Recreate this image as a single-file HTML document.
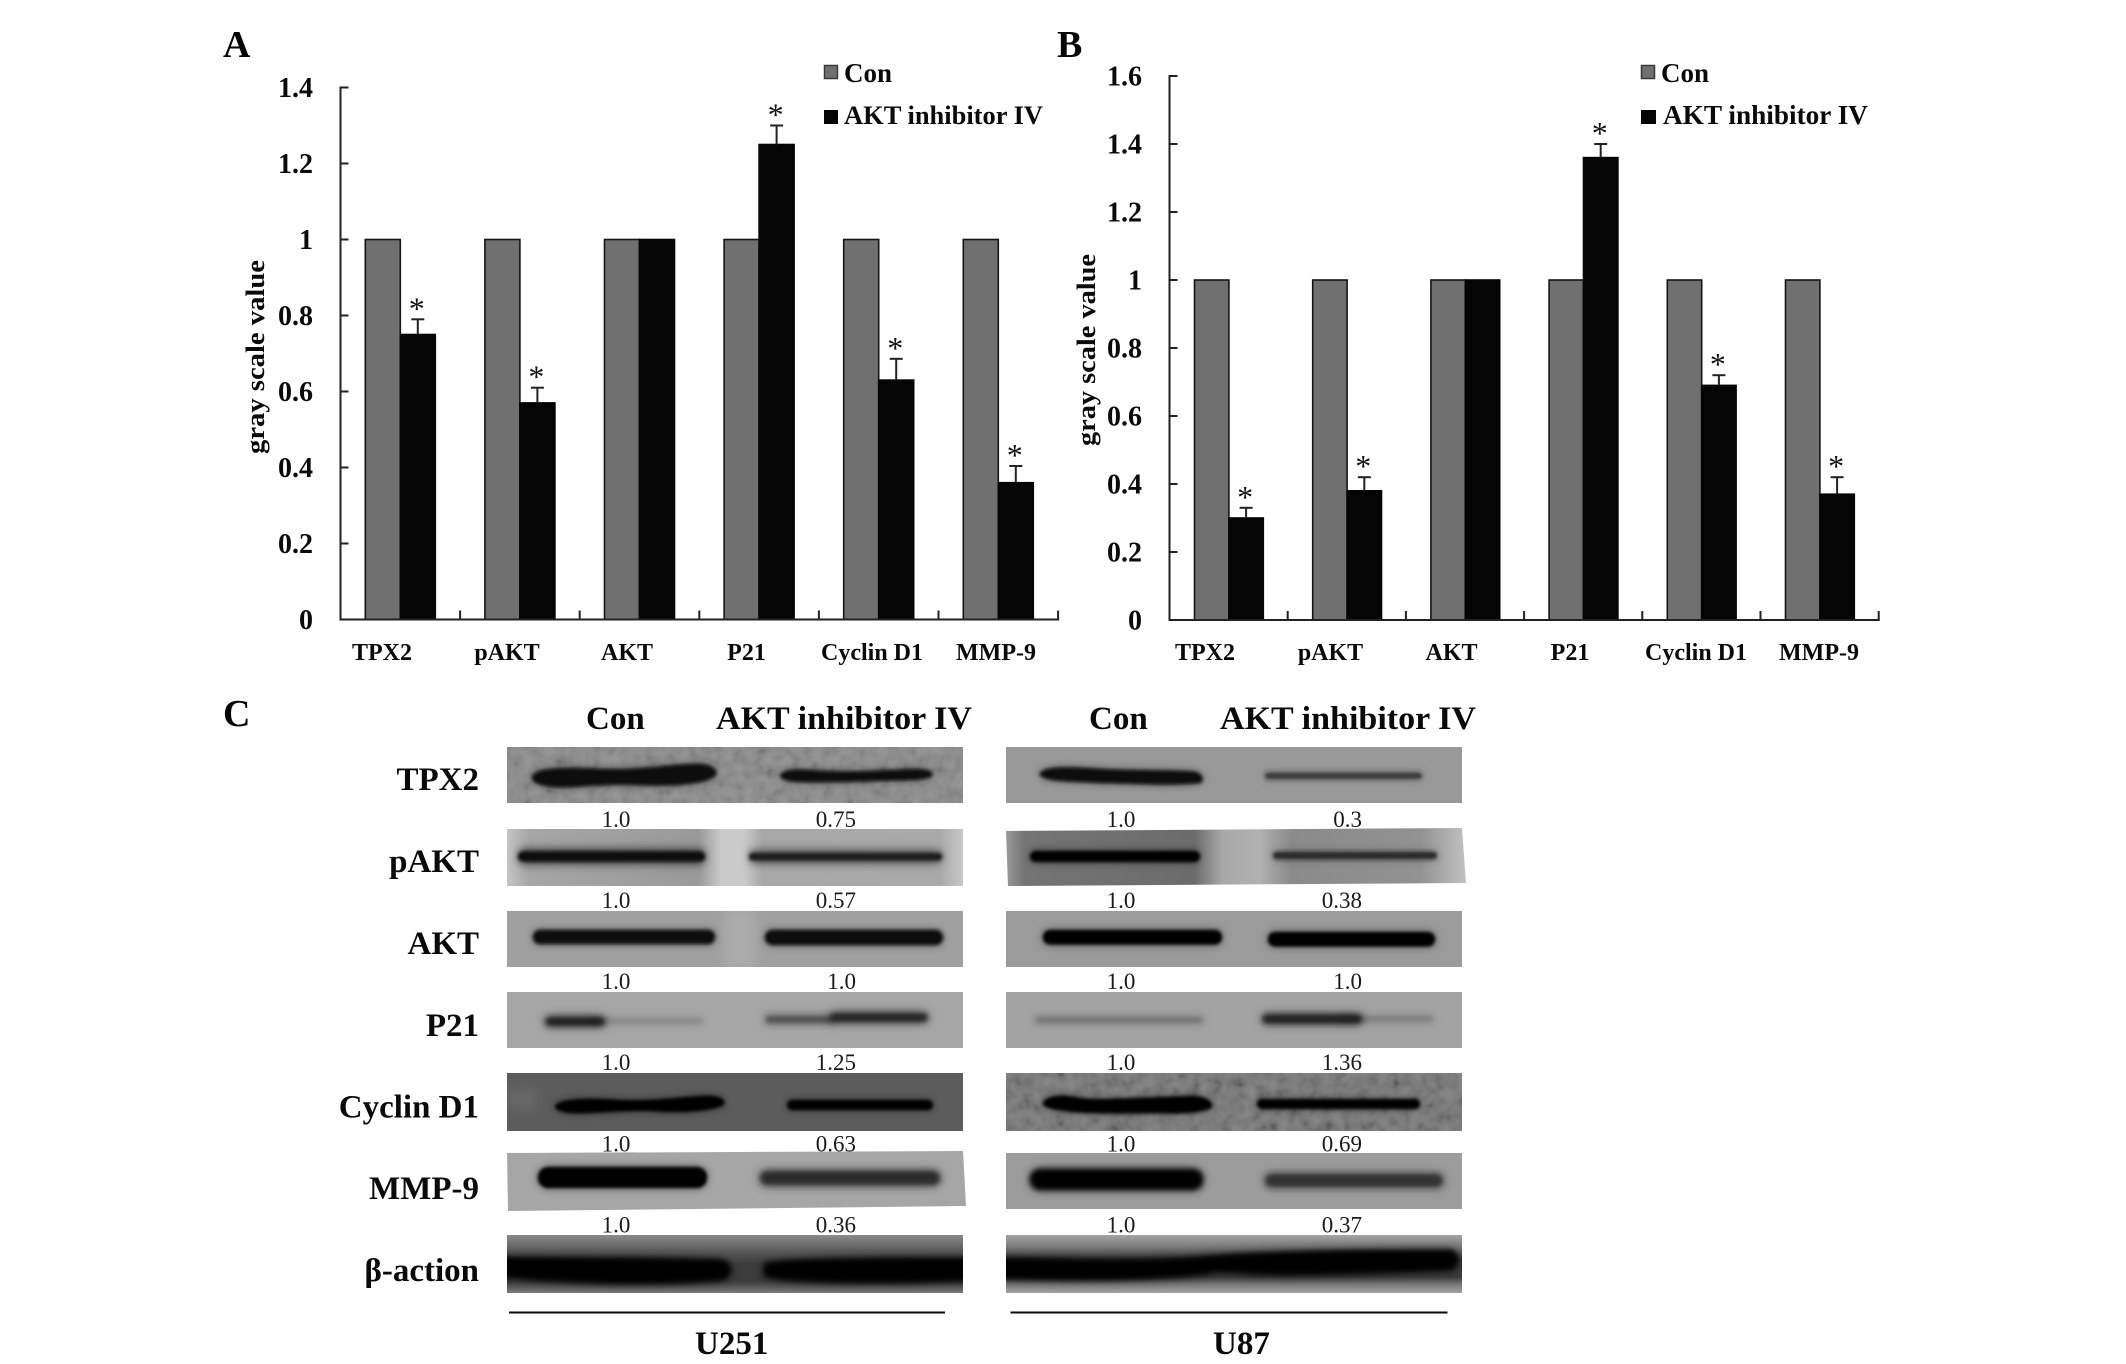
<!DOCTYPE html>
<html lang="en">
<head>
<meta charset="utf-8">
<title>AKT inhibitor IV gray scale values and western blots</title>
<style>
html,body{margin:0;padding:0;background:#fff;}
svg#figure{display:block;font-family:"Liberation Serif",serif;}
.b{font-weight:bold;fill:#0a0a0a;}
.n{fill:#1a1a1a;font-size:23px;}
.cat{font-weight:bold;font-size:24px;fill:#0a0a0a;}
.letter{font-weight:bold;font-size:38px;fill:#050505;}
.row{font-weight:bold;font-size:33px;fill:#0a0a0a;text-anchor:end;}
.head{font-weight:bold;font-size:33px;fill:#0a0a0a;}
</style>
</head>
<body>
<svg id="figure" xmlns="http://www.w3.org/2000/svg" width="2126" height="1364" viewBox="0 0 2126 1364">
<defs>
<filter id="b1" x="-20%" y="-300%" width="140%" height="700%">
<feGaussianBlur in="SourceGraphic" stdDeviation="4.5" result="h0"/>
<feComponentTransfer in="h0" result="h"><feFuncA type="linear" slope=".55"/></feComponentTransfer>
<feGaussianBlur in="SourceGraphic" stdDeviation="1.6" result="c"/>
<feMerge><feMergeNode in="h"/><feMergeNode in="c"/></feMerge>
</filter>
<filter id="b2" x="-20%" y="-300%" width="140%" height="700%">
<feGaussianBlur in="SourceGraphic" stdDeviation="5.5" result="h0"/>
<feComponentTransfer in="h0" result="h"><feFuncA type="linear" slope=".6"/></feComponentTransfer>
<feGaussianBlur in="SourceGraphic" stdDeviation="2.6" result="c"/>
<feMerge><feMergeNode in="h"/><feMergeNode in="c"/></feMerge>
</filter>
<filter id="b5" x="-30%" y="-200%" width="160%" height="500%"><feGaussianBlur stdDeviation="5"/></filter>
<filter id="noise" x="0" y="0" width="100%" height="100%"><feTurbulence type="fractalNoise" baseFrequency="0.09" numOctaves="2" seed="4"/><feColorMatrix type="matrix" values="1.6 0 0 0 -.3 1.6 0 0 0 -.3 1.6 0 0 0 -.3 0 0 0 0 1"/></filter>
<linearGradient id="gPakt251"><stop offset="0" stop-color="#c4c4c4"/><stop offset=".05" stop-color="#a6a6a6"/><stop offset=".42" stop-color="#9a9a9a"/><stop offset=".47" stop-color="#cacaca"/><stop offset=".52" stop-color="#cacaca"/><stop offset=".56" stop-color="#a8a8a8"/><stop offset=".95" stop-color="#aaa"/><stop offset="1" stop-color="#c8c8c8"/></linearGradient>
<linearGradient id="gPakt87"><stop offset="0" stop-color="#9a9a9a"/><stop offset=".04" stop-color="#747474"/><stop offset=".41" stop-color="#6c6c6c"/><stop offset=".47" stop-color="#a8a8a8"/><stop offset=".55" stop-color="#b2b2b2"/><stop offset=".62" stop-color="#8a8a8a"/><stop offset=".9" stop-color="#929292"/><stop offset="1" stop-color="#c2c2c2"/></linearGradient>
<linearGradient id="gBeta251" x1="0" y1="0" x2="0" y2="1"><stop offset="0" stop-color="#8a8a8a"/><stop offset=".28" stop-color="#5a5a5a"/><stop offset=".5" stop-color="#3c3c3c"/><stop offset=".8" stop-color="#3c3c3c"/><stop offset=".9" stop-color="#5a5a5a"/><stop offset="1" stop-color="#7c7c7c"/></linearGradient>
<linearGradient id="gBeta87" x1="0" y1="0" x2="0" y2="1"><stop offset="0" stop-color="#a4a4a4"/><stop offset=".22" stop-color="#767676"/><stop offset=".42" stop-color="#3a3a3a"/><stop offset=".72" stop-color="#3a3a3a"/><stop offset=".86" stop-color="#7a7a7a"/><stop offset="1" stop-color="#a4a4a4"/></linearGradient>
</defs>

<text class="letter" x="223" y="57">A</text>
<text class="letter" x="1057" y="57">B</text>
<text class="letter" x="223" y="726">C</text>

<g id="panel-a"></g>
<g id="panel-b"></g>

<text class="b" font-size="26" transform="translate(264 454) rotate(-90)" textLength="194" lengthAdjust="spacingAndGlyphs">gray scale value</text>
<text class="b" font-size="26" transform="translate(1095 446) rotate(-90)" textLength="192" lengthAdjust="spacingAndGlyphs">gray scale value</text>

<g text-anchor="middle">
<text class="cat" x="382" y="660">TPX2</text>
<text class="cat" x="507" y="660">pAKT</text>
<text class="cat" x="627" y="660">AKT</text>
<text class="cat" x="746.5" y="660">P21</text>
<text class="cat" x="872" y="660">Cyclin D1</text>
<text class="cat" x="996" y="660">MMP-9</text>
</g>
<g text-anchor="middle">
<text class="cat" x="1205" y="660">TPX2</text>
<text class="cat" x="1330.5" y="660">pAKT</text>
<text class="cat" x="1451.5" y="660">AKT</text>
<text class="cat" x="1570" y="660">P21</text>
<text class="cat" x="1696" y="660">Cyclin D1</text>
<text class="cat" x="1819" y="660">MMP-9</text>
</g>

<g>
<rect x="824.5" y="65.5" width="13" height="13" fill="#707070" stroke="#3a3a3a" stroke-width="1.5"/>
<text class="b" x="844" y="82" font-size="27">Con</text>
<rect x="824" y="110" width="14" height="14" fill="#050505"/>
<text class="b" x="844" y="124" font-size="26.4" textLength="199" lengthAdjust="spacingAndGlyphs">AKT inhibitor IV</text>
</g>
<g>
<rect x="1641.5" y="65.5" width="13" height="13" fill="#707070" stroke="#3a3a3a" stroke-width="1.5"/>
<text class="b" x="1661" y="82" font-size="27">Con</text>
<rect x="1641" y="110" width="15" height="14" fill="#050505"/>
<text class="b" x="1663" y="124" font-size="27" textLength="205" lengthAdjust="spacingAndGlyphs">AKT inhibitor IV</text>
</g>

<g>
<text class="head" x="586" y="729">Con</text>
<text class="head" x="716" y="729" textLength="256" lengthAdjust="spacingAndGlyphs">AKT inhibitor IV</text>
<text class="head" x="1089" y="729">Con</text>
<text class="head" x="1220" y="729" textLength="256" lengthAdjust="spacingAndGlyphs">AKT inhibitor IV</text>
</g>
<g>
<text class="row" x="479" y="790">TPX2</text>
<text class="row" x="479" y="872">pAKT</text>
<text class="row" x="479" y="954">AKT</text>
<text class="row" x="479" y="1036">P21</text>
<text class="row" x="479" y="1117.5">Cyclin D1</text>
<text class="row" x="479" y="1199">MMP-9</text>
<text class="row" x="479" y="1281">β-action</text>
</g>

<g text-anchor="middle">
<text class="n" x="616" y="827">1.0</text>
<text class="n" x="616" y="908">1.0</text>
<text class="n" x="616" y="989">1.0</text>
<text class="n" x="616" y="1070">1.0</text>
<text class="n" x="616" y="1151.5">1.0</text>
<text class="n" x="616" y="1232.5">1.0</text>
</g>
<g text-anchor="end">
<text class="n" x="856" y="827">0.75</text>
<text class="n" x="856" y="908">0.57</text>
<text class="n" x="856" y="989">1.0</text>
<text class="n" x="856" y="1070">1.25</text>
<text class="n" x="856" y="1151.5">0.63</text>
<text class="n" x="856" y="1232.5">0.36</text>
</g>
<g text-anchor="middle">
<text class="n" x="1121" y="827">1.0</text>
<text class="n" x="1121" y="908">1.0</text>
<text class="n" x="1121" y="989">1.0</text>
<text class="n" x="1121" y="1070">1.0</text>
<text class="n" x="1121" y="1151.5">1.0</text>
<text class="n" x="1121" y="1232.5">1.0</text>
</g>
<g text-anchor="end">
<text class="n" x="1362" y="827">0.3</text>
<text class="n" x="1362" y="908">0.38</text>
<text class="n" x="1362" y="989">1.0</text>
<text class="n" x="1362" y="1070">1.36</text>
<text class="n" x="1362" y="1151.5">0.69</text>
<text class="n" x="1362" y="1232.5">0.37</text>
</g>

<!-- U251 blots -->
<svg x="507" y="747" width="456" height="56" viewBox="507 747 456 56">
<rect x="507" y="747" width="456" height="56" fill="#888"/>
<rect x="507" y="747" width="456" height="56" filter="url(#noise)" opacity=".12"/>
<path d="M532 777C536 768 560 767 600 769C640 771 670 764 700 764C712 765 718 770 716 775C705 785 670 786 640 785C600 783 580 788 555 787C540 786 531 782 532 777Z" fill="#070707" filter="url(#b1)"/>
<path d="M780 775C785 769 800 769 820 771C860 773 890 770 915 769C928 769 934 772 932 776C925 781 900 780 870 781C840 782 800 783 790 781C784 780 780 778 780 775Z" fill="#0c0c0c" filter="url(#b1)"/>
</svg>
<svg x="507" y="829" width="456" height="57" viewBox="507 829 456 57">
<rect x="507" y="829" width="456" height="57" fill="url(#gPakt251)"/>
<rect x="520" y="848" width="184" height="17" fill="#666" filter="url(#b5)"/>
<rect x="752" y="849" width="188" height="15" fill="#777" filter="url(#b5)"/>
<rect x="518" y="851.5" width="187" height="10" rx="5" fill="#0d0d0d" filter="url(#b1)"/>
<rect x="749" y="853" width="193" height="7.5" rx="3.5" fill="#1c1c1c" filter="url(#b1)"/>
</svg>
<svg x="507" y="911" width="456" height="56" viewBox="507 911 456 56">
<rect x="507" y="911" width="456" height="56" fill="#a0a0a0"/>
<rect x="725" y="911" width="30" height="56" fill="#acacac" filter="url(#b5)"/>
<rect x="533" y="930" width="182" height="14" rx="7" fill="#101010" filter="url(#b1)"/>
<rect x="765" y="930" width="178" height="15" rx="7.5" fill="#101010" filter="url(#b1)"/>
</svg>
<svg x="507" y="992" width="456" height="56" viewBox="507 992 456 56">
<rect x="507" y="992" width="456" height="56" fill="#a6a6a6"/>
<rect x="590" y="1018.5" width="113" height="5" rx="2.5" fill="#858585" filter="url(#b2)"/>
<rect x="545" y="1017" width="60" height="9" rx="4.5" fill="#1e1e1e" filter="url(#b2)"/>
<rect x="765" y="1016" width="70" height="7" rx="3.5" fill="#4c4c4c" filter="url(#b2)"/>
<rect x="830" y="1013" width="98" height="9" rx="4.5" fill="#222" filter="url(#b2)"/>
</svg>
<svg x="507" y="1073" width="456" height="58" viewBox="507 1073 456 58">
<rect x="507" y="1073" width="456" height="58" fill="#5c5c5c"/>
<rect x="507" y="1088" width="30" height="22" fill="#666" filter="url(#b5)"/>
<path d="M555 1106C560 1098 590 1098 620 1100C660 1102 690 1095 712 1096C725 1097 727 1103 722 1106C705 1112 680 1113 650 1111C620 1110 590 1114 570 1113C560 1112 554 1109 555 1106Z" fill="#060606" filter="url(#b1)"/>
<rect x="787" y="1100" width="146" height="10" rx="5" fill="#060606" filter="url(#b1)"/>
</svg>
<svg x="505" y="1150" width="462" height="62" viewBox="505 1150 462 62">
<polygon points="507,1153 963,1151 966,1206 508,1211" fill="#a6a6a6"/>
<rect x="538" y="1167" width="169" height="21" rx="10" fill="#050505" filter="url(#b1)"/>
<rect x="760" y="1171" width="180" height="14" rx="7" fill="#2a2a2a" filter="url(#b2)"/>
</svg>
<svg x="507" y="1235" width="456" height="58" viewBox="507 1235 456 58">
<rect x="507" y="1235" width="456" height="58" fill="url(#gBeta251)"/>
<path d="M495 1257C560 1258 680 1258 722 1260C734 1264 734 1276 722 1280C660 1286 570 1284 495 1276Z" fill="#030303" filter="url(#b2)"/>
<path d="M764 1264C780 1258 900 1258 976 1258L976 1280C900 1284 790 1284 764 1276Z" fill="#030303" filter="url(#b2)"/>
</svg>

<!-- U87 blots -->
<svg x="1006" y="747" width="456" height="56" viewBox="1006 747 456 56">
<rect x="1006" y="747" width="456" height="56" fill="#999"/>
<path d="M1040 773C1046 766 1070 767 1100 769C1140 771 1180 770 1196 772C1204 775 1204 781 1200 783C1170 786 1130 783 1100 783C1075 781 1050 782 1043 777C1040 776 1039 775 1040 773Z" fill="#080808" filter="url(#b1)"/>
<rect x="1265" y="772.5" width="157" height="6.5" rx="3.2" fill="#3c3c3c" filter="url(#b1)"/>
</svg>
<svg x="1006" y="827" width="460" height="61" viewBox="1006 827 460 61">
<polygon points="1006,831 1462,828 1466,883 1008,886" fill="url(#gPakt87)"/>
<rect x="1030" y="851" width="170" height="11" rx="5.5" fill="#060606" filter="url(#b1)"/>
<rect x="1273" y="852" width="164" height="7" rx="3.5" fill="#2c2c2c" filter="url(#b1)"/>
</svg>
<svg x="1006" y="911" width="456" height="56" viewBox="1006 911 456 56">
<rect x="1006" y="911" width="456" height="56" fill="#9b9b9b"/>
<rect x="1043" y="930" width="179" height="14.5" rx="7" fill="#060606" filter="url(#b1)"/>
<rect x="1268" y="932" width="167" height="14.5" rx="7" fill="#060606" filter="url(#b1)"/>
</svg>
<svg x="1006" y="992" width="456" height="56" viewBox="1006 992 456 56">
<rect x="1006" y="992" width="456" height="56" fill="#a3a3a3"/>
<rect x="1035" y="1017.5" width="168" height="5" rx="2.5" fill="#6a6a6a" filter="url(#b2)"/>
<rect x="1340" y="1016.5" width="93" height="5" rx="2.5" fill="#767676" filter="url(#b2)"/>
<rect x="1262" y="1014.5" width="100" height="9" rx="4.5" fill="#1c1c1c" filter="url(#b2)"/>
</svg>
<svg x="1006" y="1073" width="456" height="58" viewBox="1006 1073 456 58">
<rect x="1006" y="1073" width="456" height="58" fill="#707070"/>
<rect x="1006" y="1073" width="456" height="58" filter="url(#noise)" opacity=".16"/>
<path d="M1043 1103C1046 1095 1065 1094 1080 1098C1095 1101 1150 1097 1190 1096C1210 1096 1214 1104 1211 1108C1200 1113 1180 1114 1160 1113C1130 1113 1100 1114 1075 1112C1055 1110 1042 1108 1043 1103Z" fill="#040404" filter="url(#b1)"/>
<rect x="1257" y="1099" width="163" height="10" rx="5" fill="#040404" filter="url(#b1)"/>
</svg>
<svg x="1006" y="1153" width="456" height="56" viewBox="1006 1153 456 56">
<rect x="1006" y="1153" width="456" height="56" fill="#9c9c9c"/>
<rect x="1030" y="1169" width="173" height="21" rx="10" fill="#050505" filter="url(#b2)"/>
<rect x="1265" y="1174" width="178" height="13" rx="6.5" fill="#333" filter="url(#b2)"/>
</svg>
<svg x="1006" y="1235" width="456" height="58" viewBox="1006 1235 456 58">
<rect x="1006" y="1235" width="456" height="58" fill="url(#gBeta87)"/>
<path d="M990 1258C1060 1258 1130 1264 1225 1255C1300 1250 1400 1250 1452 1250C1460 1254 1460 1264 1452 1270C1400 1272 1300 1276 1260 1274C1230 1272 1215 1270 1205 1274C1130 1282 1060 1280 990 1278Z" fill="#030303" filter="url(#b2)"/>
</svg>

<line x1="509" y1="1312.5" x2="945" y2="1312.5" stroke="#0a0a0a" stroke-width="2"/>
<line x1="1010.5" y1="1312.5" x2="1447.5" y2="1312.5" stroke="#0a0a0a" stroke-width="2"/>
<text class="head" x="695" y="1354">U251</text>
<text class="head" x="1213" y="1354">U87</text>
</svg>

<script>
const aControl = [1, 1, 1, 1, 1, 1];
const aInhibitor = [0.75, 0.57, 1, 1.25, 0.63, 0.36];
const aError = [0.04, 0.04, 0, 0.05, 0.056, 0.044];
const aTicks = [0, 0.2, 0.4, 0.6, 0.8, 1, 1.2, 1.4];
const aTickLabels = ['0', '0.2', '0.4', '0.6', '0.8', '1', '1.2', '1.4'];

const bControl = [1, 1, 1, 1, 1, 1];
const bInhibitor = [0.3, 0.38, 1, 1.36, 0.69, 0.37];
const bError = [0.03, 0.04, 0, 0.04, 0.03, 0.05];
const bTicks = [0, 0.2, 0.4, 0.6, 0.8, 1, 1.2, 1.4, 1.6];
const bTickLabels = ['0', '0.2', '0.4', '0.6', '0.8', '1', '1.2', '1.4', '1.6'];

const groupNames = ['tpx2', 'pakt', 'akt', 'p21', 'cyclin-d1', 'mmp9'];

const NS = 'http://www.w3.org/2000/svg';

function node(parent, tag, attrs, text) {
  const el = document.createElementNS(NS, tag);
  Object.keys(attrs).forEach(function (k) { el.setAttribute(k, attrs[k]); });
  if (text !== undefined) el.textContent = text;
  parent.appendChild(el);
  return el;
}

function drawPanel(prefix, rootId, axis, control, inhibitor, error, ticks, tickLabels) {
  const root = document.getElementById(rootId);
  const y = function (v) { return axis.y0 - v * axis.unit; };
  const groupX = function (i) { return axis.x0 + i * axis.step; };
  const topY = y(ticks[ticks.length - 1]);
  const endX = groupX(control.length);
  const ink = '#222';

  control.forEach(function (v, i) {
    const left = groupX(i) + axis.pad;
    const gray = node(root, 'rect', { x: left, y: y(v), width: axis.bar, height: axis.y0 - y(v), fill: '#707070', stroke: '#151515', 'stroke-width': 1.6 });
    
    

    const w = inhibitor[i];
    const black = node(root, 'rect', { x: left + axis.bar, y: y(w), width: axis.bar, height: axis.y0 - y(w), fill: '#050505', stroke: '#050505', 'stroke-width': 1.6 });
    
    

    if (error[i] > 0) {
      const cx = left + axis.bar * 1.5;
      const top = y(w + error[i]);
      const stem = node(root, 'line', { x1: cx, x2: cx, y1: y(w), y2: top, stroke: ink, 'stroke-width': 2 });
      
      
      const cap = node(root, 'line', { x1: cx - 6.5, x2: cx + 6.5, y1: top, y2: top, stroke: ink, 'stroke-width': 2 });
      
      
      const star = node(root, 'text', { x: cx - 1, y: top, 'text-anchor': 'middle', 'font-size': 32, fill: '#111' }, '*');
      
      
    }
  });

  const yAxis = node(root, 'line', { x1: axis.x0, x2: axis.x0, y1: topY - 1, y2: axis.y0, stroke: ink, 'stroke-width': 2 });
  
  
  const xAxis = node(root, 'line', { x1: axis.x0 - 1, x2: endX + 1, y1: axis.y0, y2: axis.y0, stroke: ink, 'stroke-width': 2 });
  
  

  ticks.forEach(function (t, i) {
    if (t > 0) {
      const mark = node(root, 'line', { x1: axis.x0, x2: axis.x0 + 8, y1: y(t), y2: y(t), stroke: ink, 'stroke-width': 2 });
      
      
    }
    const label = node(root, 'text', { x: axis.labelX, y: y(t) + 9.5, 'text-anchor': 'end', 'font-size': 28, 'font-weight': 'bold', fill: '#0a0a0a' }, tickLabels[i]);
    
    
  });

  for (let i = 1; i <= control.length; i++) {
    const tick = node(root, 'line', { x1: groupX(i), x2: groupX(i), y1: axis.y0 - 9, y2: axis.y0, stroke: ink, 'stroke-width': 2 });
    
    
  }
}

drawPanel('a', 'panel-a', { x0: 340.5, y0: 619.5, unit: 380, step: 119.6, pad: 24.8, bar: 35, labelX: 313 }, aControl, aInhibitor, aError, aTicks, aTickLabels);
drawPanel('b', 'panel-b', { x0: 1169.5, y0: 620, unit: 340, step: 118.2, pad: 25, bar: 34.4, labelX: 1142 }, bControl, bInhibitor, bError, bTicks, bTickLabels);
</script>
</body>
</html>
